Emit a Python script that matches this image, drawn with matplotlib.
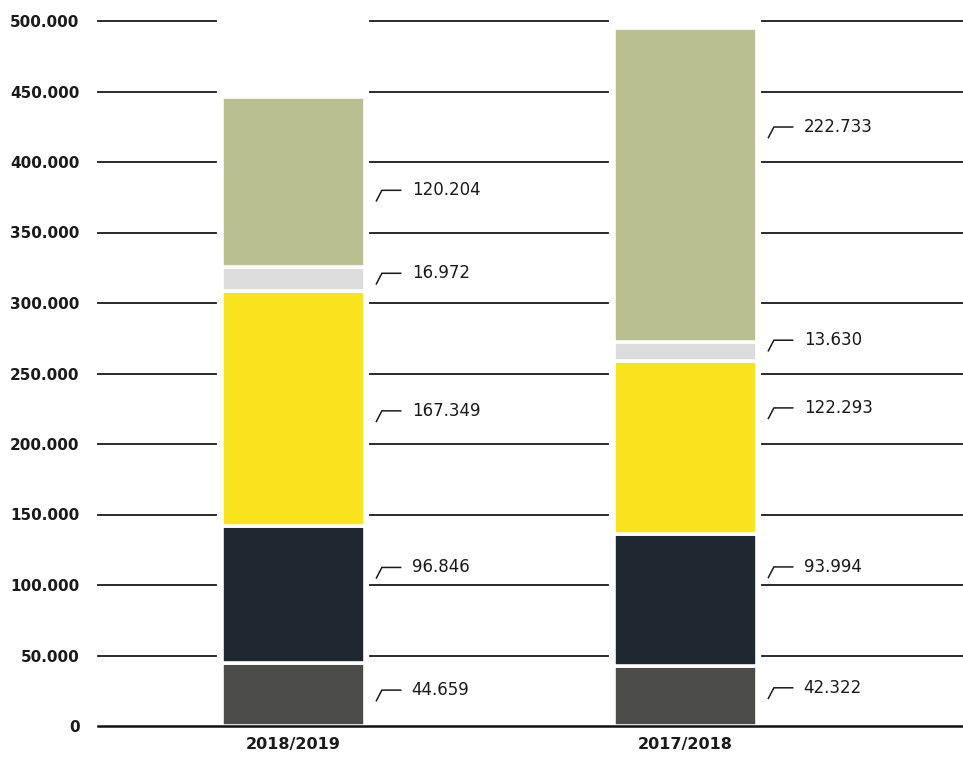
import numpy as np
from matplotlib import pyplot as plt

seasons = ["2018/2019", "2017/2018"]
# stacked from bottom to top
seg_2018_19 = [44659, 96846, 167349, 16972, 120204]
seg_2017_18 = [42322, 93994, 122293, 13630, 222733]
colors = ["#4b4b49", "#1d2830", "#f9e31e", "#dcdcdc", "#b9bf8f"]

# where each value label sits inside its segment (fraction of segment height)
lab_frac_2018_19 = [0.57, 0.70, 0.49, 0.72, 0.45]
lab_frac_2017_18 = [0.64, 0.75, 0.73, 1.10, 0.685]


def fmt(v):
    return f"{v:,.0f}".replace(",", ".")


fig = plt.figure(figsize=(9.63, 7.58), dpi=100)
ax = fig.add_axes([92 / 963, 1 - 726 / 758, 871 / 963, 705 / 758])

x = np.arange(len(seasons))
width = 0.365
ax.set_xlim(-0.513, 1.709)
ax.set_ylim(0, 500000)

data = [seg_2018_19, seg_2017_18]
fracs = [lab_frac_2018_19, lab_frac_2017_18]

# gridlines broken around the bars
ticks = np.arange(0, 500001, 50000)
gap = 0.013
xl, xr = ax.get_xlim()
for t in ticks:
    if t == 0:
        ax.plot([-0.497, xr], [0, 0], color="#111111", lw=1.8, zorder=4, clip_on=False)
        continue
    pieces = [(-0.497, x[0] - width / 2 - gap),
              (x[0] + width / 2 + gap, x[1] - width / 2 - gap),
              (x[1] + width / 2 + gap, xr)]
    for a, b in pieces:
        ax.plot([a, b], [t, t], color="#1a1a1a", lw=1.3, zorder=1, clip_on=False)

for i, vals in enumerate(data):
    bottom = 0
    for j, v in enumerate(vals):
        ax.bar(x[i], v, width, bottom=bottom, color=colors[j],
               edgecolor="white", linewidth=2.6, zorder=2)
        ly = bottom + v * fracs[i][j]
        # little bracket marker pointing to the value
        xb = x[i] + width / 2 + 0.030
        ax.plot([xb, xb + 0.014, xb + 0.062],
                [ly - 7500, ly, ly], color="#1a1a1a", lw=1.1, zorder=3)
        ax.text(xb + 0.09, ly, fmt(v), fontsize=12, va="center", ha="left",
                color="#1a1a1a")
        bottom += v

ax.set_yticks(ticks)
ax.set_yticklabels([fmt(t) for t in ticks], fontsize=11, fontweight="bold",
                   color="#1a1a1a")
ax.set_xticks(x)
ax.set_xticklabels(seasons, fontsize=11.5, fontweight="bold", color="#1a1a1a")
ax.tick_params(axis="y", length=0, pad=9)
ax.tick_params(axis="x", length=0, pad=8)
for s in ax.spines.values():
    s.set_visible(False)

fig.savefig("out.png", dpi=100)
